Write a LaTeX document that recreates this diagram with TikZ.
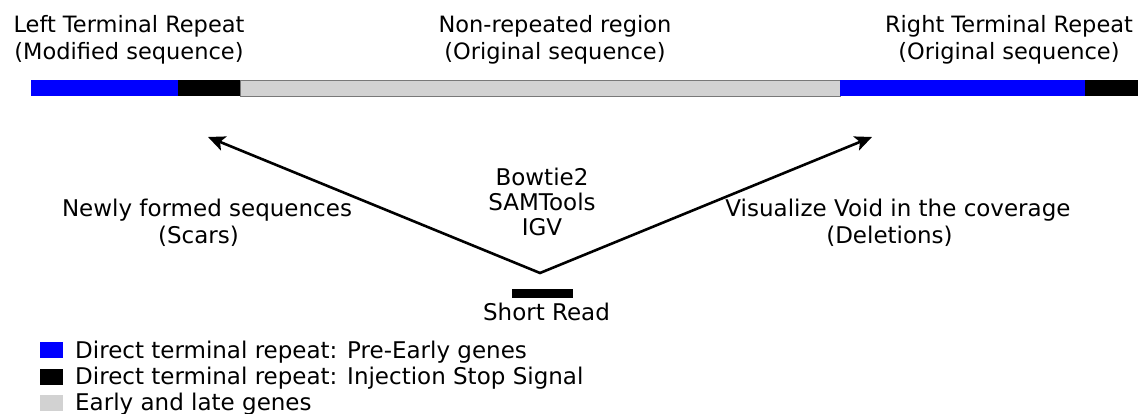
\documentclass[tikz,border=0pt]{standalone}
\usepackage{fontspec}
\setmainfont{DejaVu Sans}
\usetikzlibrary{arrows.meta}
\definecolor{repblue}{RGB}{0,0,255}
\definecolor{genegray}{RGB}{210,210,210}
\definecolor{edgegray}{RGB}{120,120,120}
\begin{document}
\begin{tikzpicture}[x=1pt,y=-1pt,
  toplbl/.style={font=\fontsize{22.5}{27}\selectfont, align=center, inner sep=0pt},
  lbl/.style={font=\fontsize{23}{27}\selectfont, align=center, inner sep=0pt},
  tools/.style={font=\fontsize{23}{25}\selectfont, align=center, inner sep=0pt},
  legtxt/.style={font=\fontsize{23}{26}\selectfont, anchor=base west, inner sep=0pt},
  swatch/.style={minimum width=23pt, minimum height=16pt, inner sep=0pt, draw=none},
  mapline/.style={line width=2.6pt, line join=miter,
    {Stealth[length=17pt,width=15pt,inset=4pt]}-{Stealth[length=17pt,width=15pt,inset=4pt]}}
]
\useasboundingbox (0,0) rectangle (1138,414);

% genome bar
\fill[repblue] (31,80) rectangle (178,96.5);
\fill[black] (178,80) rectangle (240,96.5);
\filldraw[fill=genegray, draw=edgegray, line width=0.8pt] (240,80.4) rectangle (840,96.1);
\fill[repblue] (840,80) rectangle (1085,96.5);
\fill[black] (1085,80) rectangle (1138,96.5);

% region labels
\node[toplbl] (ltr) at (129,40) {Left Terminal Repeat\\(Modified sequence)};
\node[toplbl] (nrr) at (555,40) {Non-repeated region\\(Original sequence)};
\node[toplbl] (rtr) at (1009,40) {Right Terminal Repeat\\(Original sequence)};

% short read and its mappings
\node[fill=black, minimum width=61pt, minimum height=9pt, inner sep=0pt] (read) at (542.5,293.5) {};
\node[font=\fontsize{23}{27}\selectfont, inner sep=0pt, anchor=base] (readlbl) at (546.5,320) {Short Read};
\coordinate (apex) at (540,273);
\coordinate (scartip) at (208,137);
\coordinate (voidtip) at (872,137);
\draw[mapline] (scartip) -- (apex) -- (voidtip);

\node[tools] (tools) at (542,202) {Bowtie2\\SAMTools\\IGV};
\node[lbl] (scars) at (207,223) {Newly formed sequences\\(Scars)\hspace*{17pt}};
\node[lbl] (void) at (898,223) {Visualize Void in the coverage\\(Deletions)\hspace*{17pt}};

% legend
\node[swatch, fill=repblue] (kblue) at (51.5,350) {};
\node[swatch, fill=black] (kblack) at (51.5,377) {};
\node[swatch, fill=genegray] (kgray) at (51.5,403) {};
\node[legtxt] (tblue) at (75,358) {Direct terminal repeat: Pre-Early genes};
\node[legtxt] (tblack) at (75,384) {Direct terminal repeat: Injection Stop Signal};
\node[legtxt] (tgray) at (75,410) {Early and late genes};
\end{tikzpicture}
\end{document}
